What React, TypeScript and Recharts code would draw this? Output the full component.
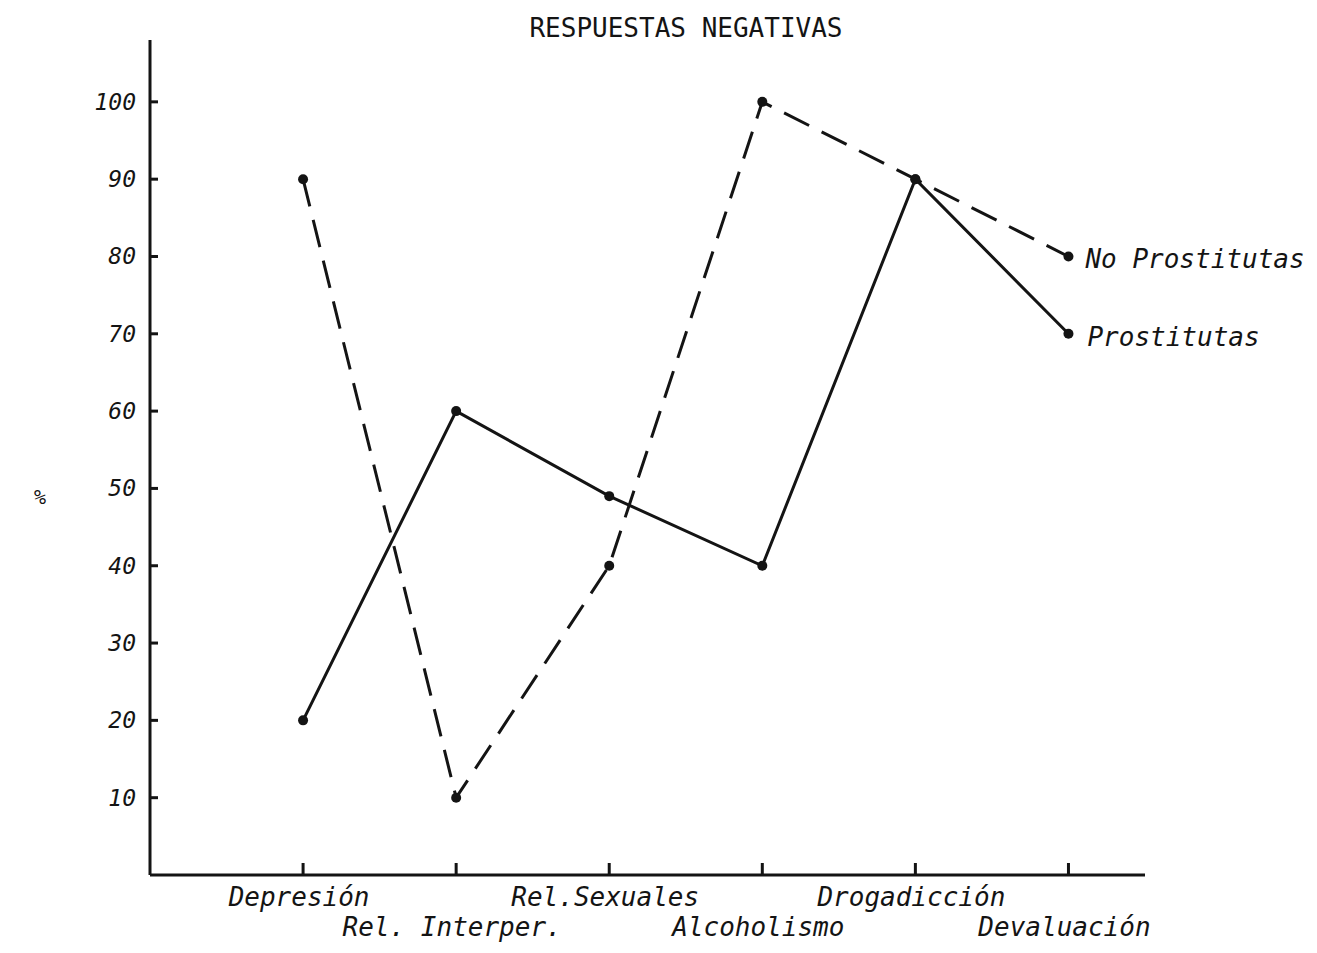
import { LineChart, Line, XAxis, YAxis, Label } from 'recharts'

const categories = ['Depresión', 'Rel. Interper.', 'Rel.Sexuales', 'Alcoholismo', 'Drogadicción', 'Devaluación']
const positions = [1, 2, 3, 4, 5, 6]
const prostitutas = [20, 60, 49, 40, 90, 70]
const noProstitutas = [90, 10, 40, 100, 90, 80]
const yTicks = [10, 20, 30, 40, 50, 60, 70, 80, 90, 100]
const seriesNames = ['Prostitutas', 'No Prostitutas']

const data = positions.map((p, i) => ({
  pos: p,
  name: categories[i],
  prost: prostitutas[i],
  noProst: noProstitutas[i],
}))

const INK = '#141414'
const MONO = '"DejaVu Sans Mono", "Liberation Mono", monospace'

function XTick(props: any) {
  const { x, y, payload } = props
  const idx = positions.indexOf(payload.value)
  const label = categories[idx] ?? ''
  const dy = idx % 2 === 0 ? 22 : 52
  return (
    <g>
      <line x1={x} x2={x} y1={y} y2={y - 12} stroke={INK} strokeWidth={3} />
      <text
        x={x - 4}
        y={y + dy}
        textAnchor="middle"
        dominantBaseline="central"
        fill={INK}
        fontFamily={MONO}
        fontStyle="italic"
        fontSize={26}
      >
        {label}
      </text>
    </g>
  )
}

function YTick(props: any) {
  const { x, y, payload } = props
  return (
    <g>
      <line x1={x} x2={x + 8} y1={y} y2={y} stroke={INK} strokeWidth={3} />
      <text
        x={x - 14}
        y={y}
        textAnchor="end"
        dominantBaseline="central"
        fill={INK}
        fontFamily={MONO}
        fontStyle="italic"
        fontSize={23}
      >
        {payload.value}
      </text>
    </g>
  )
}

// name written next to the last point of each line
function endLabel(name: string, dx: number) {
  return (props: any) => {
    const { x, y, index } = props
    if (index !== positions.length - 1) return null
    return (
      <text
        x={x + dx}
        y={y + 3}
        dominantBaseline="central"
        fill={INK}
        fontFamily={MONO}
        fontStyle="italic"
        fontSize={26}
      >
        {name}
      </text>
    )
  }
}

export default function App() {
  return (
    <div style={{ position: 'relative', width: 1300, height: 940, background: '#fff' }}>
      <div
        style={{
          position: 'absolute',
          left: 0,
          width: 1356,
          top: 5,
          textAlign: 'center',
          fontFamily: MONO,
          fontSize: 26,
          color: INK,
        }}
      >
        RESPUESTAS NEGATIVAS
      </div>
      <LineChart
        width={1300}
        height={940}
        data={data}
        margin={{ top: 32, right: 163, bottom: 0, left: 0 }}
      >
        <XAxis
          dataKey="pos"
          type="number"
          domain={[0, 6.5]}
          ticks={positions}
          height={73}
          tickSize={0}
          tickMargin={0}
          tickLine={false}
          axisLine={{ stroke: INK, strokeWidth: 3 }}
          tick={<XTick />}
          interval={0}
        />
        <YAxis
          type="number"
          domain={[0, 108]}
          ticks={yTicks}
          width={142}
          tickSize={0}
          tickMargin={0}
          tickLine={false}
          axisLine={{ stroke: INK, strokeWidth: 3 }}
          tick={<YTick />}
          interval={0}
        >
          <Label
            content={(p: any) => {
              const vb = p.viewBox || {}
              return (
                <text
                  x={(vb.x ?? 0) + 32}
                  y={(vb.y ?? 0) + 457}
                  textAnchor="middle"
                  dominantBaseline="central"
                  fill={INK}
                  fontFamily={MONO}
                  fontSize={20}
                >
                  %
                </text>
              )
            }}
          />
        </YAxis>
        <Line
          dataKey="noProst"
          name={seriesNames[1]}
          type="linear"
          stroke={INK}
          strokeWidth={3}
          strokeDasharray="28 14"
          dot={{ r: 5, fill: INK, stroke: 'none', strokeDasharray: '0' }}
          activeDot={false}
          label={endLabel(seriesNames[1], 17)}
          isAnimationActive={false}
        />
        <Line
          dataKey="prost"
          name={seriesNames[0]}
          type="linear"
          stroke={INK}
          strokeWidth={3}
          dot={{ r: 5, fill: INK, stroke: 'none' }}
          activeDot={false}
          label={endLabel(seriesNames[0], 19)}
          isAnimationActive={false}
        />
      </LineChart>
    </div>
  )
}
